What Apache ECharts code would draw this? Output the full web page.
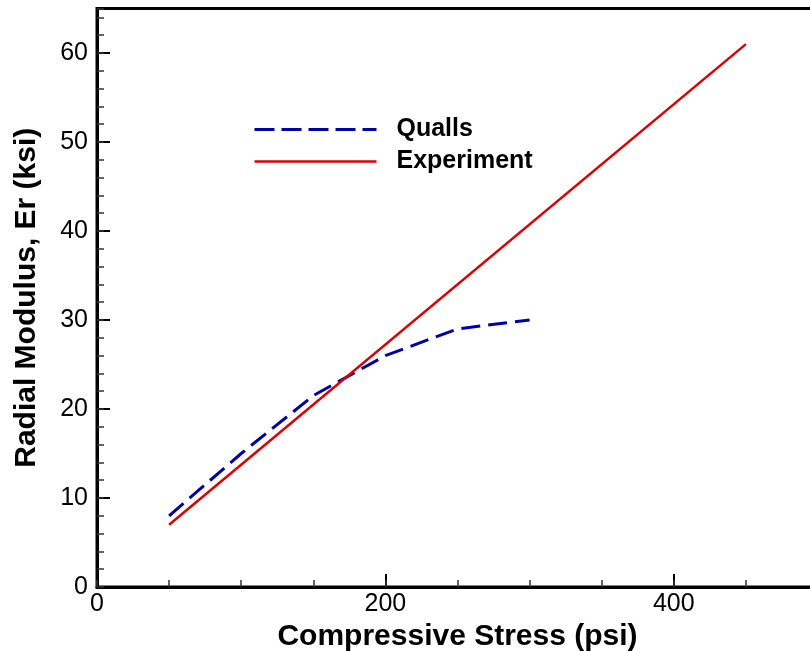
<!DOCTYPE html>
<html>
<head>
<meta charset="utf-8">
<script src="https://cdn.jsdelivr.net/npm/echarts@6/dist/echarts.min.js"></script>
<style>
  html, body { margin: 0; padding: 0; background: #fff; }
  #chart { width: 810px; height: 651px; }
</style>
</head>
<body>
<div id="chart"></div>
<script>
// Radial modulus vs compressive stress
const quallsStress = [50, 100, 150, 200, 250, 300];
const quallsModulus = [8, 15, 21.5, 26, 29, 30];
const experimentStress = [50, 450];
const experimentModulus = [7, 61];

const xTitle = 'Compressive Stress (psi)';
const yTitle = 'Radial Modulus, Er (ksi)';
const seriesNames = ['Qualls', 'Experiment'];

const FONT = '"Liberation Sans", Arial, sans-serif';
const BLUE = '#0000aa';
const RED = '#dd0000';
const DASH = [19, 8];

const pairs = (xs, ys) => xs.map((x, i) => [x, ys[i]]);

const chart = echarts.init(document.getElementById('chart'), null, { renderer: 'canvas' });

const gridBox = { left: 97, top: 8.5, width: 721, height: 578.5 };

chart.setOption({
  backgroundColor: '#ffffff',
  animation: false,
  grid: Object.assign({ show: true, borderColor: '#000', borderWidth: 3, backgroundColor: 'transparent',
                        containLabel: false, outerBoundsMode: 'none' }, gridBox),
  legend: {
    orient: 'vertical',
    left: 253,
    top: 117,
    padding: 0,
    itemWidth: 122,
    itemHeight: 24,
    itemGap: 7,
    itemStyle: { opacity: 0 },
    textStyle: { fontFamily: FONT, fontSize: 25, fontWeight: 'bold', color: '#000', padding: [0, 0, 0, 15] },
    data: [
      { name: seriesNames[0], lineStyle: { color: BLUE, width: 3, type: [20, 7] }, itemStyle: { opacity: 0 } },
      { name: seriesNames[1], lineStyle: { color: RED, width: 2.5 }, itemStyle: { opacity: 0 } }
    ]
  },
  xAxis: [
    {
      type: 'value', min: 0, max: 500, interval: 200,
      name: xTitle, nameLocation: 'middle', nameGap: 16,
      nameTextStyle: { fontFamily: FONT, fontSize: 30, fontWeight: 'bold', color: '#000' },
      axisLine: { show: true, onZero: false, lineStyle: { color: '#000', width: 3 } },
      axisTick: { show: true, inside: true, length: 13, lineStyle: { color: '#000', width: 2 } },
      axisLabel: { fontFamily: FONT, fontSize: 25, color: '#000', margin: 5,
                   formatter: v => (v % 200 === 0 ? String(v) : '') },
      splitLine: { show: false }
    },
    {
      type: 'value', min: 0, max: 500, interval: 50, position: 'bottom',
      axisLine: { show: false },
      axisTick: { show: true, inside: true, length: 7, lineStyle: { color: '#333', width: 1.5 } },
      axisLabel: { show: false },
      splitLine: { show: false }
    }
  ],
  yAxis: [
    {
      type: 'value', min: 0, max: 65, interval: 10,
      name: yTitle, nameLocation: 'middle', nameGap: 55,
      nameTextStyle: { fontFamily: FONT, fontSize: 30, fontWeight: 'bold', color: '#000' },
      axisLine: { show: true, onZero: false, lineStyle: { color: '#000', width: 3 } },
      axisTick: { show: true, inside: true, length: 13, lineStyle: { color: '#000', width: 2 } },
      axisLabel: { fontFamily: FONT, fontSize: 25, color: '#000', margin: 9,
                   formatter: v => (v % 10 === 0 ? String(v) : '') },
      splitLine: { show: false }
    },
    {
      type: 'value', min: 0, max: 65, interval: 2, position: 'left',
      axisLine: { show: false },
      axisTick: { show: true, inside: true, length: 7, lineStyle: { color: '#333', width: 1.5 } },
      axisLabel: { show: false },
      splitLine: { show: false }
    }
  ],
  series: [
    {
      name: seriesNames[0], type: 'line', xAxisIndex: 0, yAxisIndex: 0,
      data: pairs(quallsStress, quallsModulus),
      showSymbol: false, symbol: 'none',
      lineStyle: { color: BLUE, width: 3, type: DASH },
      itemStyle: { color: BLUE }
    },
    {
      name: seriesNames[1], type: 'line', xAxisIndex: 0, yAxisIndex: 0,
      data: pairs(experimentStress, experimentModulus),
      showSymbol: false, symbol: 'none',
      lineStyle: { color: RED, width: 2.5 },
      itemStyle: { color: RED }
    }
  ]
});
</script>
</body>
</html>
